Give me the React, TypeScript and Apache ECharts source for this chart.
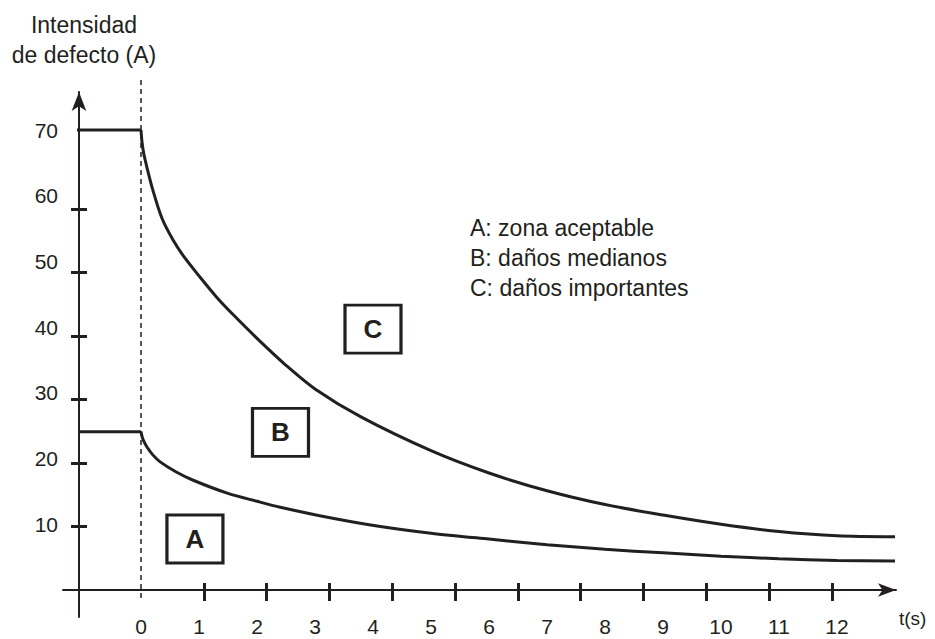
import React, { useEffect, useRef } from 'react';
import * as echarts from 'echarts';

// ---- data ----
const xLabelValues = [0, 1, 2, 3, 4, 5, 6, 7, 8, 9, 10, 11, 12];
const xTickValues = [1, 2, 3, 4, 5, 6, 7, 8, 9, 10, 11];
const yLabelValues = [10, 20, 30, 40, 50, 60, 70];
const yTickValues = [10, 20, 30, 40, 50, 60];

const upperFlat = [[-1.207, 70], [0, 70]];
const upperCurve = [
  [0, 70], [0.02, 68.0], [0.05, 66.3], [0.1, 64.4], [0.2, 61.0], [0.36, 56.6],
  [0.55, 53.3], [0.75, 50.6], [1, 47.8], [1.3, 44.6], [1.6, 41.8], [2, 38.3],
  [2.5, 34.2], [3, 30.6], [3.8, 26.3], [5, 21.2], [6, 17.8], [7, 15.1], [8, 13.0],
  [9, 11.4], [10, 10.0], [11, 8.9], [12, 8.25], [13, 8.1],
];
const lowerFlat = [[-1.069, 24.1], [0, 24.1]];
const lowerCurve = [
  [0, 24.1], [0.02, 23.3], [0.05, 22.6], [0.1, 21.8], [0.2, 20.6], [0.33, 19.5],
  [0.6, 18.0], [0.9, 16.7], [1.5, 14.7], [2, 13.5], [2.4, 12.6], [3.26, 11.0],
  [4.1, 9.7], [5, 8.65], [6, 7.75], [7, 6.9], [8, 6.2], [9, 5.65], [10, 5.15],
  [11, 4.75], [12, 4.5], [13, 4.4],
];
const zeroLine = [[0, -1.2], [0, 77.6]];
const zoneBoxes = [
  { name: 'A', value: [0.93, 7.76] },
  { name: 'B', value: [2.405, 23.97] },
  { name: 'C', value: [4.0, 39.7] },
];
const zoneLegend = ['A: zona aceptable', 'B: daños medianos', 'C: daños importantes'];
const xName = 't(s)';
const yName = 'Intensidad\nde defecto (A)';

const INK = '#231f20';
const FONT = '"Liberation Sans", Arial, Helvetica, sans-serif';
const YU = 460 / 70; // px per unit on the labelled y scale

export default function App() {
  const ref = useRef<HTMLDivElement>(null);
  useEffect(() => {
    if (!ref.current) return;
    const chart = echarts.init(ref.current, null, { renderer: 'svg' });
    const lineBase = {
      type: 'line' as const,
      xAxisIndex: 0,
      yAxisIndex: 0,
      symbol: 'none',
      clip: false,
      silent: true,
      lineStyle: { color: INK, width: 3 },
    };
    const g = { containLabel: false, outerBoundsMode: 'none' };
    chart.setOption({
      animation: false,
      backgroundColor: '#ffffff',
      textStyle: { fontFamily: FONT, color: INK },
      title: {
        text: zoneLegend.join('\n'),
        left: 465,
        top: 208,
        textStyle: { fontFamily: FONT, fontSize: 23, lineHeight: 30, fontWeight: 'normal', color: INK },
      },
      grid: [
        { ...g, left: 79, right: 39, top: 92, bottom: 22 }, // data + y axis line/labels
        { ...g, left: 63, right: 39, top: 92, bottom: 49 }, // x axis line/labels
        { ...g, left: 87, right: 39, top: 92, bottom: 22 }, // y ticks
        { ...g, left: 63, right: 39, top: 92, bottom: 56 }, // x ticks
      ],
      xAxis: [
        { type: 'value', gridIndex: 0, min: -62 / 58, max: 755 / 58, show: false, splitLine: { show: false } },
        {
          type: 'value', gridIndex: 1, min: -78 / 58, max: 755 / 58, position: 'bottom',
          name: xName, nameLocation: 'end', nameGap: 3, nameMoveOverlap: false,
          nameTextStyle: { fontFamily: FONT, fontSize: 19, color: INK, align: 'left', verticalAlign: 'top', padding: [19, 0, 0, 0] },
          axisLine: { show: true, onZero: false, symbol: ['none', 'arrow'], symbolSize: [10, 18], lineStyle: { color: INK, width: 2 } },
          axisTick: { show: false },
          axisLabel: { customValues: xLabelValues, margin: 26, fontSize: 21, color: INK, fontFamily: FONT },
          splitLine: { show: false },
        },
        { type: 'value', gridIndex: 2, min: 0, max: 1, show: false, splitLine: { show: false } },
        {
          type: 'value', gridIndex: 3, min: -78 / 62.8, max: 755 / 62.8, position: 'bottom',
          axisLine: { show: false, onZero: false },
          axisTick: { show: true, customValues: xTickValues, length: 18, inside: false, lineStyle: { color: INK, width: 3 } },
          axisLabel: { show: false },
          splitLine: { show: false },
        },
      ],
      yAxis: [
        {
          type: 'value', gridIndex: 0, min: -27 / YU, max: 498 / YU, position: 'left',
          name: yName, nameLocation: 'end', nameGap: 22, nameMoveOverlap: false,
          nameTextStyle: { fontFamily: FONT, fontSize: 23, lineHeight: 30, color: INK, align: 'center', verticalAlign: 'bottom', padding: [0, 0, 0, 10] },
          axisLine: { show: true, onZero: false, symbol: ['none', 'arrow'], symbolSize: [11, 19], lineStyle: { color: INK, width: 2 } },
          axisTick: { show: false },
          axisLabel: { customValues: yLabelValues, margin: 21, fontSize: 21, color: INK, fontFamily: FONT },
          splitLine: { show: false },
        },
        { type: 'value', gridIndex: 1, min: 0, max: 1, show: false, splitLine: { show: false } },
        {
          type: 'value', gridIndex: 2, min: -27 / 6.35, max: 498 / 6.35, position: 'left',
          axisLine: { show: false, onZero: false },
          axisTick: { show: true, customValues: yTickValues, length: 16, inside: false, lineStyle: { color: INK, width: 3 } },
          axisLabel: { show: false },
          splitLine: { show: false },
        },
        { type: 'value', gridIndex: 3, min: 0, max: 1, show: false, splitLine: { show: false } },
      ],
      series: [
        { ...lineBase, name: 'upperFlat', data: upperFlat },
        { ...lineBase, name: 'upperCurve', data: upperCurve, smooth: 0.3 },
        { ...lineBase, name: 'lowerFlat', data: lowerFlat },
        { ...lineBase, name: 'lowerCurve', data: lowerCurve, smooth: 0.3 },
        { ...lineBase, name: 'zero', data: zeroLine, lineStyle: { color: INK, width: 1.5, type: [5, 4] } },
        {
          type: 'scatter', xAxisIndex: 0, yAxisIndex: 0, silent: true, clip: false,
          symbol: 'rect', symbolSize: [56, 48],
          itemStyle: { color: 'rgba(0,0,0,0)', borderColor: INK, borderWidth: 3, opacity: 1 },
          label: { show: true, position: 'inside', formatter: '{b}', fontSize: 26, fontWeight: 'bold', color: INK, fontFamily: FONT },
          emphasis: { disabled: true },
          data: zoneBoxes,
        },
      ],
    });
    return () => chart.dispose();
  }, []);
  return <div ref={ref} style={{ position: 'fixed', left: 0, top: 0, width: 935, height: 639 }} />;
}
